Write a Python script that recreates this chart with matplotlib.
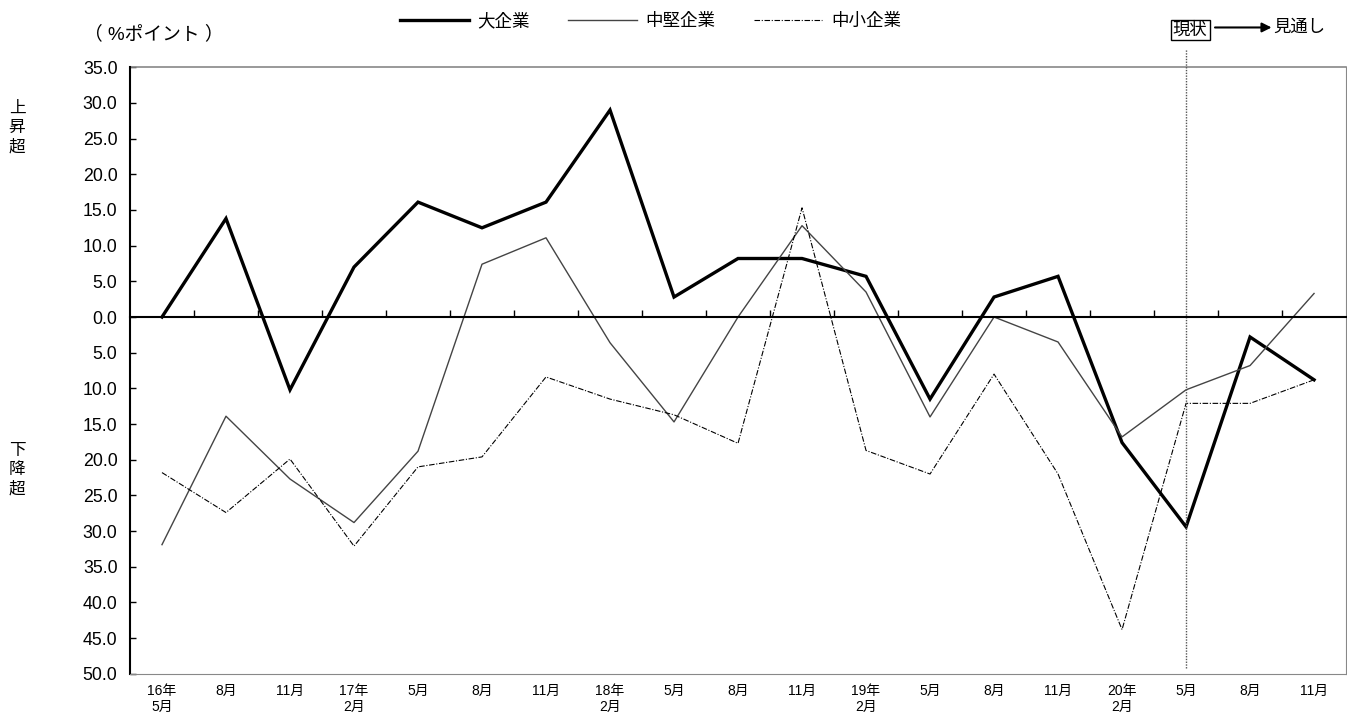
import numpy as np
import matplotlib.pyplot as plt
from matplotlib.ticker import FixedLocator

plt.rcParams['font.family'] = ['Liberation Sans', 'Noto Sans CJK JP', 'DejaVu Sans']

# 調査時点
periods = ["16年\n5月", "8月", "11月", "17年\n2月", "5月", "8月", "11月", "18年\n2月",
           "5月", "8月", "11月", "19年\n2月", "5月", "8月", "11月", "20年\n2月",
           "5月", "8月", "11月"]

# BSI (%ポイント), 正=上昇超, 負=下降超
large = [0.0, 13.8, -10.2, 7.0, 16.1, 12.5, 16.1, 29.0, 2.8, 8.2, 8.2, 5.7,
         -11.5, 2.8, 5.7, -17.6, -29.4, -2.8, -8.8]
mid = [-31.9, -13.9, -22.7, -28.8, -18.8, 7.4, 11.1, -3.6, -14.7, 0.0, 12.8, 3.5,
       -14.0, 0.0, -3.5, -16.8, -10.2, -6.8, 3.3]
small = [-21.8, -27.4, -19.9, -32.1, -21.0, -19.6, -8.4, -11.5, -13.7, -17.7, 15.3,
         -18.7, -22.0, -8.0, -22.0, -43.8, -12.1, -12.1, -8.8]

current_idx = 16  # 現状 (20年5月), 以降は見通し
y_ticks = np.arange(-50, 36, 5)

x = np.arange(len(periods))

fig = plt.figure(figsize=(13.47, 7.23), dpi=100)
ax = fig.add_axes([0.0965, 0.068, 0.9028, 0.839])

l1, = ax.plot(x, large, color="black", lw=2.4, solid_joinstyle="miter", label="大企業")
l2, = ax.plot(x, mid, color="#444444", lw=1.0, label="中堅企業")
l3, = ax.plot(x, small, color="black", lw=0.8, linestyle=(0, (5, 1.5, 1, 1.5)), label="中小企業")

ax.set_xlim(-0.5, len(periods) - 0.5)
ax.set_ylim(y_ticks[0], y_ticks[-1])

# y axis: absolute values
ax.set_yticks(y_ticks)
ax.set_yticklabels([f"{abs(v):.1f}" for v in y_ticks], fontsize=12.8)
ax.tick_params(axis="y", direction="in", length=4, width=1, pad=9, colors="black")

# x axis labels at bottom, no ticks
ax.set_xticks(x)
ax.set_xticklabels(periods, fontsize=10.5, linespacing=1.05, va="top")
ax.tick_params(axis="x", which="major", length=0, pad=7)

# zero line with boundary ticks (top spine moved to 0)
ax.spines["top"].set_position(("data", 0))
ax.spines["top"].set_color("black")
ax.spines["top"].set_linewidth(1.5)
ax.xaxis.set_minor_locator(FixedLocator(x[1:] - 0.5))
ax.tick_params(axis="x", which="minor", bottom=False, top=True, direction="out",
               length=5, width=1, color="black")

ax.spines["left"].set_linewidth(1.5)
ax.spines["bottom"].set_color("#888888")
ax.spines["right"].set_color("#888888")
ax.plot([0, 1], [1, 1], transform=ax.transAxes, color="#888888", lw=1.2, clip_on=False)

# 現状 line
ax.axvline(x[current_idx], ymin=0.01, ymax=1.03, color="#555555", lw=1,
           linestyle=(0, (1, 1)), clip_on=False)

fig.legend(handles=[l1, l2, l3], loc="upper center", bbox_to_anchor=(0.483, 1.005),
           ncol=3, frameon=False, fontsize=12.6, handlelength=3.9, handletextpad=0.5,
           columnspacing=2.2)

fig.text(0.062, 0.952, "（ %ポイント ）", fontsize=13.5, ha="left", va="center")
fig.text(0.0126, 0.823, "上\n昇\n超", fontsize=12, ha="center", va="center", linespacing=1.35)
fig.text(0.0126, 0.35, "下\n降\n超", fontsize=12, ha="center", va="center", linespacing=1.35)

fig.text(0.8835, 0.9585, "現状", fontsize=12.5, ha="center", va="center",
         bbox=dict(boxstyle="square,pad=0.12", fc="white", ec="black", lw=1))
fig.text(0.945, 0.962, "見通し", fontsize=12.5, ha="left", va="center")
ax.annotate("", xy=(0.944, 0.962), xytext=(0.902, 0.962),
            xycoords="figure fraction", textcoords="figure fraction",
            arrowprops=dict(arrowstyle="-|>", color="black", lw=1.5,
                            mutation_scale=14, shrinkA=0, shrinkB=0))

fig.savefig("out.png", dpi=100)
